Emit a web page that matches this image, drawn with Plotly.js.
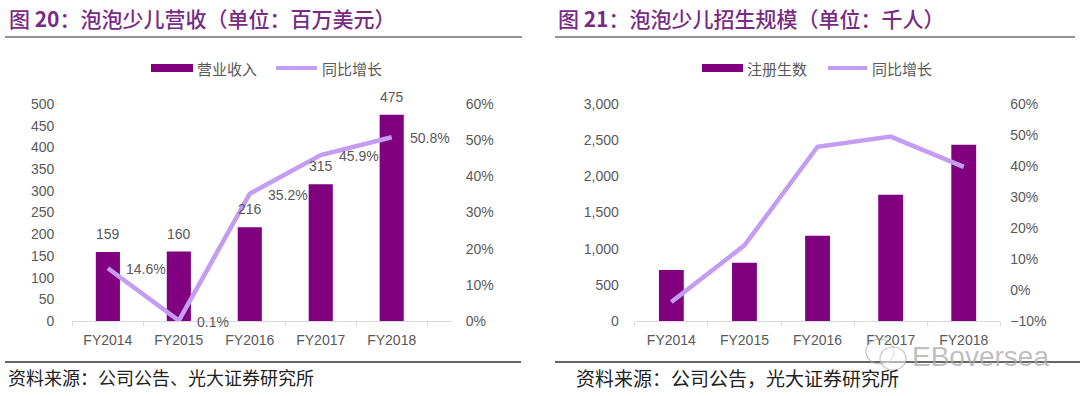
<!DOCTYPE html>
<html>
<head>
<meta charset="utf-8">
<script src="https://cdn.plot.ly/plotly-3.0.1.min.js"></script>
<style>
html,body{margin:0;padding:0;background:#fff;}
#chart{width:1080px;height:396px;}
</style>
</head>
<body>
<div id="chart"></div>
<script>
// ---- data ----
const categories = ["FY2014", "FY2015", "FY2016", "FY2017", "FY2018"];
const revenue = [159, 160, 216, 315, 475];               // 营业收入（百万美元）
const revenueGrowth = [14.6, 0.1, 35.2, 45.9, 50.8];     // 同比增长 %
const enrollment = [705, 806, 1180, 1745, 2435];         // 注册生数（千人）
const enrollmentGrowth = [-3.9, 14.4, 46.2, 49.5, 39.7]; // 同比增长 %

const title1 = "图 <b>20</b>：泡泡少儿营收（单位：百万美元）";
const title2 = "图 <b>21</b>：泡泡少儿招生规模（单位：千人）";
const legend1 = ["营业收入", "同比增长"];
const legend2 = ["注册生数", "同比增长"];
const source1 = "资料来源：公司公告、光大证券研究所";
const source2 = "资料来源：公司公告，光大证券研究所";

// ---- style ----
const W = 1080, H = 396;
const px = v => v / W;
const py = v => 1 - v / H;
const BAR = "#800080";
const LINE = "#C39DF2";
const GREY = "#595959";
const TITLE = "#782B84";
const numFont = {family: "Liberation Sans, Arial, sans-serif", size: 14, color: GREY};
const cjk = "Noto Sans CJK SC, sans-serif";

const yDom = [py(321), py(104)];

const traces = [
  {type: "bar", x: categories, y: revenue, xaxis: "x", yaxis: "y",
   marker: {color: BAR}, width: 0.34, hoverinfo: "skip"},
  {type: "scatter", mode: "lines", x: categories, y: revenueGrowth, xaxis: "x", yaxis: "y2",
   line: {color: LINE, width: 4.5}, hoverinfo: "skip"},
  {type: "bar", x: categories, y: enrollment, xaxis: "x2", yaxis: "y3",
   marker: {color: BAR}, width: 0.34, hoverinfo: "skip"},
  {type: "scatter", mode: "lines", x: categories, y: enrollmentGrowth, xaxis: "x2", yaxis: "y4",
   line: {color: LINE, width: 4.5}, hoverinfo: "skip"}
];

const xBase = {
  type: "category", showline: true, linecolor: "#D9D9D9", linewidth: 1,
  ticks: "outside", tickson: "boundaries", ticklen: 4, tickcolor: "#D9D9D9",
  tickfont: numFont, showgrid: false, zeroline: false, fixedrange: true,
  ticklabelstandoff: 6
};
const yBase = {
  showgrid: false, zeroline: false, showline: false, ticks: "",
  tickfont: numFont, fixedrange: true
};

const annotations = [];
// value labels (left chart)
categories.forEach((c, i) => {
  annotations.push({x: c, y: revenue[i], xref: "x", yref: "y", text: String(revenue[i]),
    showarrow: false, yanchor: "bottom", yshift: 8, font: numFont});
  annotations.push({x: c, y: revenueGrowth[i], xref: "x", yref: "y2",
    text: revenueGrowth[i].toFixed(1) + "%", showarrow: false,
    xanchor: "left", xshift: 16, yshift: -1, font: numFont});
});
// titles
const titleFont = {family: cjk, size: 21, color: TITLE, weight: 500};
annotations.push({xref: "paper", yref: "paper", x: px(7), y: py(18), xanchor: "left", yanchor: "middle",
  text: title1, showarrow: false, font: titleFont});
annotations.push({xref: "paper", yref: "paper", x: px(556), y: py(18), xanchor: "left", yanchor: "middle",
  text: title2, showarrow: false, font: titleFont});
// legends
const legFont = {family: cjk, size: 15, color: GREY};
annotations.push({xref: "paper", yref: "paper", x: px(195), y: py(68), xanchor: "left", yanchor: "middle",
  text: legend1[0], showarrow: false, font: legFont});
annotations.push({xref: "paper", yref: "paper", x: px(320), y: py(68), xanchor: "left", yanchor: "middle",
  text: legend1[1], showarrow: false, font: legFont});
annotations.push({xref: "paper", yref: "paper", x: px(745), y: py(68), xanchor: "left", yanchor: "middle",
  text: legend2[0], showarrow: false, font: legFont});
annotations.push({xref: "paper", yref: "paper", x: px(870), y: py(68), xanchor: "left", yanchor: "middle",
  text: legend2[1], showarrow: false, font: legFont});
// sources
annotations.push({xref: "paper", yref: "paper", x: px(6), y: py(377), xanchor: "left", yanchor: "middle",
  text: source1, showarrow: false, font: {family: cjk, size: 18, color: "#222222"}});
annotations.push({xref: "paper", yref: "paper", x: px(574), y: py(377), xanchor: "left", yanchor: "middle",
  text: source2, showarrow: false, font: {family: cjk, size: 19, color: "#222222"}});
// watermark
annotations.push({xref: "paper", yref: "paper", x: px(910), y: py(356), xanchor: "left", yanchor: "middle",
  text: "EBoversea", showarrow: false,
  font: {family: "Liberation Sans, Arial, sans-serif", size: 28, color: "rgba(170,170,170,0.75)"}});

const shapes = [
  // title rules
  {type: "line", xref: "paper", yref: "paper", x0: px(5), x1: px(522), y0: py(37), y1: py(37),
   line: {color: "#6E6E6E", width: 1.5}},
  {type: "line", xref: "paper", yref: "paper", x0: px(555), x1: px(1075), y0: py(37), y1: py(37),
   line: {color: "#6E6E6E", width: 1.5}},
  // bottom rules
  {type: "line", xref: "paper", yref: "paper", x0: px(5), x1: px(521), y0: py(362), y1: py(362),
   line: {color: "#333333", width: 1.5}},
  {type: "line", xref: "paper", yref: "paper", x0: px(555), x1: px(1080), y0: py(362), y1: py(362),
   line: {color: "#333333", width: 1.5}},
  // legend swatches
  {type: "rect", xref: "paper", yref: "paper", x0: px(151), x1: px(193), y0: py(72), y1: py(64),
   fillcolor: BAR, line: {width: 0}},
  {type: "line", xref: "paper", yref: "paper", x0: px(276), x1: px(317), y0: py(68), y1: py(68),
   line: {color: LINE, width: 4}},
  {type: "rect", xref: "paper", yref: "paper", x0: px(702), x1: px(743), y0: py(72), y1: py(64),
   fillcolor: BAR, line: {width: 0}},
  {type: "line", xref: "paper", yref: "paper", x0: px(828), x1: px(867), y0: py(68), y1: py(68),
   line: {color: LINE, width: 4}},
  // watermark bubble icon
  {type: "circle", xref: "paper", yref: "paper", x0: px(866), x1: px(894), y0: py(364), y1: py(339),
   line: {color: "rgba(170,170,170,0.7)", width: 1.2}},
  {type: "circle", xref: "paper", yref: "paper", x0: px(880), x1: px(906), y0: py(370), y1: py(347),
   line: {color: "rgba(170,170,170,0.7)", width: 1.2}, fillcolor: "rgba(255,255,255,0.5)"}
];

const layout = {
  width: W, height: H,
  margin: {l: 0, r: 0, t: 0, b: 0},
  paper_bgcolor: "#ffffff", plot_bgcolor: "#ffffff",
  showlegend: false,
  xaxis: Object.assign({}, xBase, {domain: [px(72.4), px(451.7)], anchor: "y"}),
  yaxis: Object.assign({}, yBase, {domain: yDom, range: [0, 500], dtick: 50, anchor: "x",
    ticklabelstandoff: 17}),
  yaxis2: Object.assign({}, yBase, {range: [0, 60], dtick: 10, ticksuffix: "%", side: "right",
    overlaying: "y", anchor: "x", ticklabelstandoff: 13}),
  xaxis2: Object.assign({}, xBase, {domain: [px(634.8), px(1000.3)], anchor: "y3"}),
  yaxis3: Object.assign({}, yBase, {domain: yDom, range: [0, 3000], dtick: 500, tickformat: ",d",
    anchor: "x2", ticklabelstandoff: 15}),
  yaxis4: Object.assign({}, yBase, {range: [-10, 60], dtick: 10, ticksuffix: "%", side: "right",
    overlaying: "y3", anchor: "x2", ticklabelstandoff: 9}),
  annotations: annotations,
  shapes: shapes
};

Plotly.newPlot("chart", traces, layout, {staticPlot: true, displayModeBar: false});
</script>
</body>
</html>
